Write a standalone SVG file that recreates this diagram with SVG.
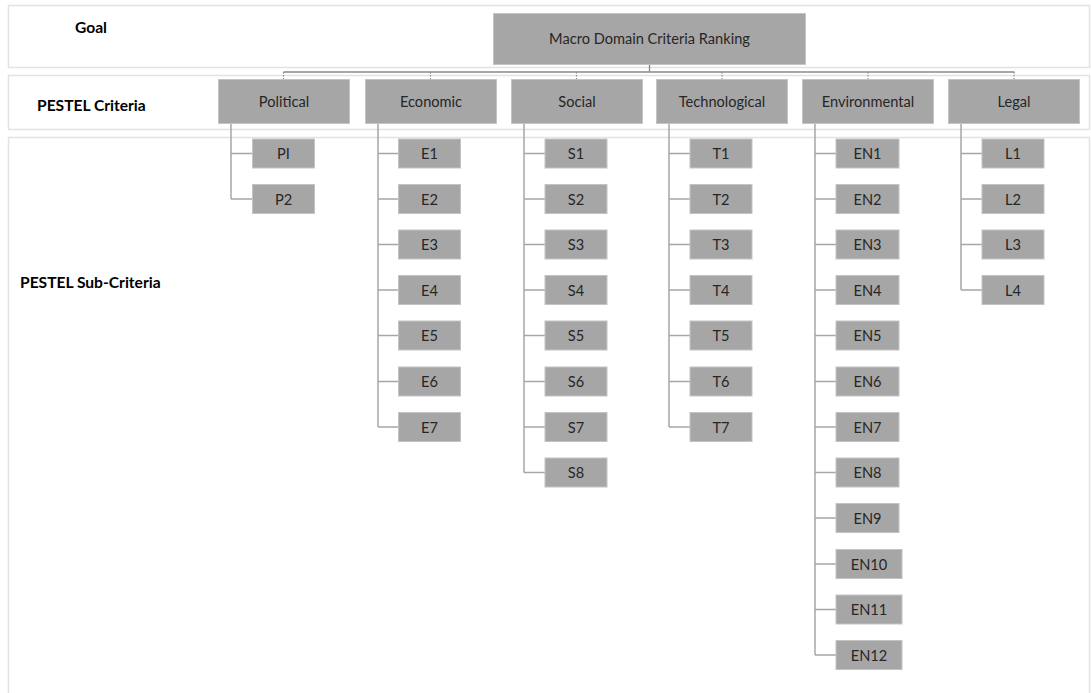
<svg xmlns="http://www.w3.org/2000/svg" width="1091" height="693" viewBox="0 0 1091 693">
  <style>
    .band { fill: #ffffff; stroke: #e3e3e3; stroke-width: 1.5; }
    .box { fill: #a6a6a6; stroke: #c4c4c4; stroke-width: 1; }
    .lbl { font-family: Lato, "Liberation Sans", sans-serif; font-size: 14.6px; fill: #262626; text-anchor: middle; dominant-baseline: central; }
    .head { font-family: Lato, "Liberation Sans", sans-serif; font-size: 15.6px; font-weight: bold; fill: #000000; }
    .wire { fill: none; stroke: #a6a6a6; stroke-width: 1.5; }
    .bus { fill: none; stroke: #8a8a8a; stroke-width: 1.3; }
    .tick { fill: none; stroke: #8a8a8a; stroke-width: 1.2; stroke-dasharray: 1.5 1.5; }
  </style>
  <rect width="1091" height="693" fill="#ffffff"/>

  <!-- level bands -->
  <g id="bands">
    <rect class="band" x="8.5" y="5.5" width="1081" height="62"/>
    <rect class="band" x="8.5" y="75.5" width="1081" height="54"/>
    <path class="band" d="M8.5 700 V137.5 H1089.5 V700"/>
    <text class="head" x="75" y="33">Goal</text>
    <text class="head" x="37" y="110.5">PESTEL Criteria</text>
    <text class="head" x="20" y="287.5">PESTEL Sub-Criteria</text>
  </g>

  <!-- connectors -->
  <g id="connectors">
    <path class="bus" d="M649.5 64 V72 M283.5 72 H1014.5"/>
    <path class="tick" d="M283.5 72 V79 M430.5 72 V79 M576.5 72 V79 M722 72 V79 M868 72 V79 M1014 72 V79"/>
    <!-- Political -->
    <path class="wire" d="M231 123 V199 M231 153.5 H252 M231 199 H252"/>
    <!-- Economic -->
    <path class="wire" d="M378 123 V427 M378 153.5 H399 M378 199 H399 M378 244.5 H399 M378 290 H399 M378 335.5 H399 M378 381.5 H399 M378 427 H399"/>
    <!-- Social -->
    <path class="wire" d="M524 123 V472.5 M524 153.5 H545 M524 199 H545 M524 244.5 H545 M524 290 H545 M524 335.5 H545 M524 381.5 H545 M524 427 H545 M524 472.5 H545"/>
    <!-- Technological -->
    <path class="wire" d="M669 123 V427 M669 153.5 H690 M669 199 H690 M669 244.5 H690 M669 290 H690 M669 335.5 H690 M669 381.5 H690 M669 427 H690"/>
    <!-- Environmental -->
    <path class="wire" d="M815 123 V655 M815 153.5 H836 M815 199 H836 M815 244.5 H836 M815 290 H836 M815 335.5 H836 M815 381.5 H836 M815 427 H836 M815 472.5 H836 M815 518 H836 M815 564 H836 M815 609.5 H836 M815 655 H836"/>
    <!-- Legal -->
    <path class="wire" d="M961 123 V290 M961 153.5 H982 M961 199 H982 M961 244.5 H982 M961 290 H982"/>
  </g>

  <!-- goal -->
  <g id="goal">
    <rect class="box" x="493.5" y="13.5" width="312" height="51"/>
    <text class="lbl" x="649.5" y="38.5">Macro Domain Criteria Ranking</text>
  </g>

  <!-- criteria -->
  <g id="political"><rect class="box" x="218.5" y="79.5" width="131" height="44"/><text class="lbl" x="284" y="101.5">Political</text></g>
  <g id="economic"><rect class="box" x="365.5" y="79.5" width="131" height="44"/><text class="lbl" x="431" y="101.5">Economic</text></g>
  <g id="social"><rect class="box" x="511.5" y="79.5" width="131" height="44"/><text class="lbl" x="577" y="101.5">Social</text></g>
  <g id="technological"><rect class="box" x="656.5" y="79.5" width="131" height="44"/><text class="lbl" x="722" y="101.5">Technological</text></g>
  <g id="environmental"><rect class="box" x="802.5" y="79.5" width="131" height="44"/><text class="lbl" x="868" y="101.5">Environmental</text></g>
  <g id="legal"><rect class="box" x="948.5" y="79.5" width="131" height="44"/><text class="lbl" x="1014" y="101.5">Legal</text></g>

  <!-- political sub-criteria -->
  <g id="p1"><rect class="box" x="252.5" y="139" width="62" height="29"/><text class="lbl" x="283.5" y="153.5">PI</text></g>
  <g id="p2"><rect class="box" x="252.5" y="184.5" width="62" height="29"/><text class="lbl" x="283.5" y="199">P2</text></g>

  <!-- economic sub-criteria -->
  <g id="e1"><rect class="box" x="398.5" y="139" width="62" height="29"/><text class="lbl" x="429.5" y="153.5">E1</text></g>
  <g id="e2"><rect class="box" x="398.5" y="184.5" width="62" height="29"/><text class="lbl" x="429.5" y="199">E2</text></g>
  <g id="e3"><rect class="box" x="398.5" y="230" width="62" height="29"/><text class="lbl" x="429.5" y="244.5">E3</text></g>
  <g id="e4"><rect class="box" x="398.5" y="275.5" width="62" height="29"/><text class="lbl" x="429.5" y="290">E4</text></g>
  <g id="e5"><rect class="box" x="398.5" y="321" width="62" height="29"/><text class="lbl" x="429.5" y="335.5">E5</text></g>
  <g id="e6"><rect class="box" x="398.5" y="367" width="62" height="29"/><text class="lbl" x="429.5" y="381.5">E6</text></g>
  <g id="e7"><rect class="box" x="398.5" y="412.5" width="62" height="29"/><text class="lbl" x="429.5" y="427">E7</text></g>

  <!-- social sub-criteria -->
  <g id="s1"><rect class="box" x="545" y="139" width="62" height="29"/><text class="lbl" x="576" y="153.5">S1</text></g>
  <g id="s2"><rect class="box" x="545" y="184.5" width="62" height="29"/><text class="lbl" x="576" y="199">S2</text></g>
  <g id="s3"><rect class="box" x="545" y="230" width="62" height="29"/><text class="lbl" x="576" y="244.5">S3</text></g>
  <g id="s4"><rect class="box" x="545" y="275.5" width="62" height="29"/><text class="lbl" x="576" y="290">S4</text></g>
  <g id="s5"><rect class="box" x="545" y="321" width="62" height="29"/><text class="lbl" x="576" y="335.5">S5</text></g>
  <g id="s6"><rect class="box" x="545" y="367" width="62" height="29"/><text class="lbl" x="576" y="381.5">S6</text></g>
  <g id="s7"><rect class="box" x="545" y="412.5" width="62" height="29"/><text class="lbl" x="576" y="427">S7</text></g>
  <g id="s8"><rect class="box" x="545" y="458" width="62" height="29"/><text class="lbl" x="576" y="472.5">S8</text></g>

  <!-- technological sub-criteria -->
  <g id="t1"><rect class="box" x="690" y="139" width="62" height="29"/><text class="lbl" x="721" y="153.5">T1</text></g>
  <g id="t2"><rect class="box" x="690" y="184.5" width="62" height="29"/><text class="lbl" x="721" y="199">T2</text></g>
  <g id="t3"><rect class="box" x="690" y="230" width="62" height="29"/><text class="lbl" x="721" y="244.5">T3</text></g>
  <g id="t4"><rect class="box" x="690" y="275.5" width="62" height="29"/><text class="lbl" x="721" y="290">T4</text></g>
  <g id="t5"><rect class="box" x="690" y="321" width="62" height="29"/><text class="lbl" x="721" y="335.5">T5</text></g>
  <g id="t6"><rect class="box" x="690" y="367" width="62" height="29"/><text class="lbl" x="721" y="381.5">T6</text></g>
  <g id="t7"><rect class="box" x="690" y="412.5" width="62" height="29"/><text class="lbl" x="721" y="427">T7</text></g>

  <!-- environmental sub-criteria -->
  <g id="en1"><rect class="box" x="836" y="139" width="63" height="29"/><text class="lbl" x="867.5" y="153.5">EN1</text></g>
  <g id="en2"><rect class="box" x="836" y="184.5" width="63" height="29"/><text class="lbl" x="867.5" y="199">EN2</text></g>
  <g id="en3"><rect class="box" x="836" y="230" width="63" height="29"/><text class="lbl" x="867.5" y="244.5">EN3</text></g>
  <g id="en4"><rect class="box" x="836" y="275.5" width="63" height="29"/><text class="lbl" x="867.5" y="290">EN4</text></g>
  <g id="en5"><rect class="box" x="836" y="321" width="63" height="29"/><text class="lbl" x="867.5" y="335.5">EN5</text></g>
  <g id="en6"><rect class="box" x="836" y="367" width="63" height="29"/><text class="lbl" x="867.5" y="381.5">EN6</text></g>
  <g id="en7"><rect class="box" x="836" y="412.5" width="63" height="29"/><text class="lbl" x="867.5" y="427">EN7</text></g>
  <g id="en8"><rect class="box" x="836" y="458" width="63" height="29"/><text class="lbl" x="867.5" y="472.5">EN8</text></g>
  <g id="en9"><rect class="box" x="836" y="503.5" width="63" height="29"/><text class="lbl" x="867.5" y="518">EN9</text></g>
  <g id="en10"><rect class="box" x="836" y="549.5" width="66" height="29"/><text class="lbl" x="869" y="564">EN10</text></g>
  <g id="en11"><rect class="box" x="836" y="595" width="66" height="29"/><text class="lbl" x="869" y="609.5">EN11</text></g>
  <g id="en12"><rect class="box" x="836" y="640.5" width="66" height="29"/><text class="lbl" x="869" y="655">EN12</text></g>

  <!-- legal sub-criteria -->
  <g id="l1"><rect class="box" x="982" y="139" width="62" height="29"/><text class="lbl" x="1013" y="153.5">L1</text></g>
  <g id="l2"><rect class="box" x="982" y="184.5" width="62" height="29"/><text class="lbl" x="1013" y="199">L2</text></g>
  <g id="l3"><rect class="box" x="982" y="230" width="62" height="29"/><text class="lbl" x="1013" y="244.5">L3</text></g>
  <g id="l4"><rect class="box" x="982" y="275.5" width="62" height="29"/><text class="lbl" x="1013" y="290">L4</text></g>
</svg>
